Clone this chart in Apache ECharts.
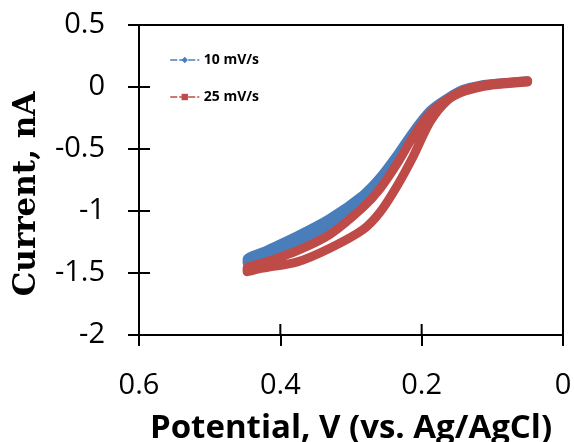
<!DOCTYPE html>
<html>
<head>
<meta charset="utf-8">
<script src="https://cdn.jsdelivr.net/npm/echarts@6/dist/echarts.min.js"></script>
<style>
  html, body { margin: 0; padding: 0; background: #fff; }
  #chart { width: 574px; height: 442px; }
</style>
</head>
<body>
<div id="chart"></div>
<script>
const potential = [0.05, 0.093, 0.117, 0.142, 0.164, 0.188, 0.212, 0.235, 0.259, 0.283, 0.33, 0.376, 0.425, 0.447];

// 10 mV/s: two branches of the loop (nA)
const blueUpper = [0.05, 0.03, 0.015, -0.02, -0.09, -0.19, -0.36, -0.55, -0.73, -0.87, -1.06, -1.2, -1.33, -1.39];
const blueLower = [0.045, 0.025, 0.01, -0.03, -0.1, -0.21, -0.39, -0.59, -0.78, -0.92, -1.11, -1.25, -1.37, -1.42];

// 25 mV/s
const redUpper = [0.05, 0.03, 0.01, -0.03, -0.1, -0.21, -0.4, -0.62, -0.82, -0.97, -1.19, -1.32, -1.42, -1.46];
const redLower = [0.04, 0.02, 0.0, -0.04, -0.11, -0.28, -0.56, -0.8, -1.01, -1.15, -1.3, -1.41, -1.46, -1.49];

const xTicks = [0, 0.2, 0.4, 0.6];
const yTicks = [-2, -1.5, -1, -0.5, 0, 0.5];
const xMin = 0, xMax = 0.6, yMin = -2, yMax = 0.5;

function loop(up, low) {
  const out = potential.map((v, i) => [v, up[i]]);
  for (let i = potential.length - 1; i >= 0; i--) out.push([potential[i], low[i]]);
  return out;
}

const chart = echarts.init(document.getElementById("chart"));
const axisFont = { fontFamily: "Open Sans", fontSize: 29, color: "#000" };
const tickStyle = { color: "#000", width: 2 };
const TICK = 11;

// inner half of the crossing tick marks (the axis draws the outer half)
function innerTick(dx, dy) {
  return (params, api) => {
    const p = api.coord([api.value(0), api.value(1)]);
    return {
      type: "line",
      shape: { x1: p[0], y1: p[1], x2: p[0] + dx, y2: p[1] + dy },
      style: { stroke: "#000", lineWidth: 2 },
    };
  };
}

chart.setOption({
  animation: false,
  grid: {
    left: 139, right: 11, top: 25, bottom: 107,
    outerBoundsMode: "none",
    show: true, borderColor: "#000", borderWidth: 2,
  },
  legend: {
    orient: "vertical",
    left: 165, top: 48,
    itemWidth: 28, itemHeight: 8, itemGap: 23,
    textStyle: { fontFamily: "Open Sans", fontSize: 14, fontWeight: "bold", color: "#000" },
    lineStyle: { width: 1.5, type: "dashed" },
    data: ["10 mV/s", "25 mV/s"],
  },
  xAxis: {
    type: "value", min: xMin, max: xMax, interval: 0.2, inverse: true,
    axisLine: { onZero: false, lineStyle: tickStyle },
    axisTick: { length: TICK, lineStyle: tickStyle },
    splitLine: { show: false },
    axisLabel: { ...axisFont, margin: 36, formatter: (v) => String(+v.toFixed(1)) },
    name: "Potential, V (vs. Ag/AgCl)",
    nameLocation: "middle", nameGap: 77,
    nameTextStyle: { fontFamily: "Open Sans", fontSize: 33, fontWeight: "bold", color: "#000" },
  },
  yAxis: {
    type: "value", min: yMin, max: yMax, interval: 0.5,
    axisLine: { onZero: false, lineStyle: tickStyle },
    axisTick: { length: TICK, lineStyle: tickStyle },
    splitLine: { show: false },
    axisLabel: { ...axisFont, margin: 34 },
  },
  graphic: [
    {
      type: "text", x: 27, y: 194, rotation: Math.PI / 2,
      style: {
        text: "Current, nA", fontFamily: "DejaVu Serif", fontWeight: "bold", fontSize: 31,
        fill: "#000", align: "center", verticalAlign: "middle",
      },
    },
  ],
  series: [
    {
      name: "10 mV/s", type: "line", data: loop(blueUpper, blueLower),
      smooth: 0.3, symbol: "diamond", symbolSize: 9, showSymbol: false,
      itemStyle: { color: "#4a7ebb" },
      lineStyle: { color: "#4a7ebb", width: 9, cap: "round", join: "round" },
    },
    {
      name: "25 mV/s", type: "line", data: loop(redUpper, redLower),
      smooth: 0.3, symbol: "rect", symbolSize: 7, showSymbol: false,
      itemStyle: { color: "#be4b48" },
      lineStyle: { color: "#be4b48", width: 9, cap: "round", join: "round" },
    },
    {
      type: "custom", silent: true, clip: false, z: 3,
      data: xTicks.map((v) => [v, yMin]),
      renderItem: innerTick(0, -TICK),
    },
    {
      type: "custom", silent: true, clip: false, z: 3,
      data: yTicks.map((v) => [xMax, v]),
      renderItem: innerTick(TICK, 0),
    },
  ],
});
</script>
</body>
</html>
